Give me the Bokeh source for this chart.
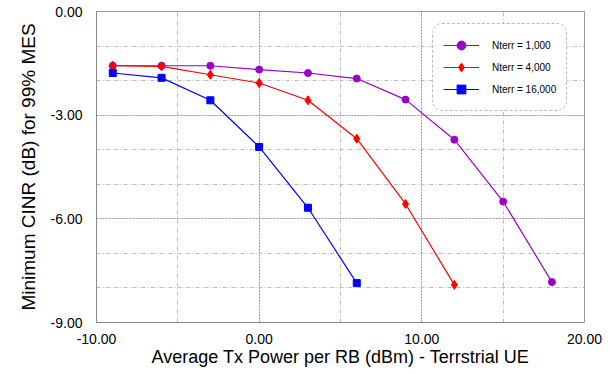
from bokeh.plotting import figure
from bokeh.models import FixedTicker, NumeralTickFormatter, Legend, LegendItem, ColumnDataSource
from bokeh.embed import file_html
from bokeh.resources import INLINE

x_1000 = [-9, -6, -3, 0, 3, 6, 9, 12, 15, 18]
y_1000 = [-1.57, -1.57, -1.57, -1.68, -1.78, -1.94, -2.55, -3.71, -5.50, -7.83]
x_4000 = [-9, -6, -3, 0, 3, 6, 9, 12]
y_4000 = [-1.57, -1.59, -1.83, -2.07, -2.57, -3.68, -5.57, -7.91]
x_16000 = [-9, -6, -3, 0, 3, 6]
y_16000 = [-1.78, -1.92, -2.57, -3.92, -5.68, -7.86]
labels = ["Nterr = 1,000", "Nterr = 4,000", "Nterr = 16,000"]
colors = ["#9900CC", "#FF0000", "#0000FF"]

FONT = "Liberation Sans"

p = figure(width=615, height=374, output_backend="svg", toolbar_location=None,
           x_range=(-10, 20), y_range=(-9, 0),
           min_border_left=96, min_border_right=31, min_border_top=11, min_border_bottom=52)
p.background_fill_color = "white"
p.border_fill_color = "white"
p.outline_line_color = "#999999"
p.outline_line_width = 1

p.xaxis.ticker = FixedTicker(ticks=[-10, 0, 10, 20], minor_ticks=[-5, 5, 15])
p.yaxis.ticker = FixedTicker(ticks=[-9, -6, -3, 0], minor_ticks=[-8, -7, -5, -4, -2, -1])
p.xaxis.formatter = NumeralTickFormatter(format="0.00")
p.yaxis.formatter = NumeralTickFormatter(format="0.00")
for ax in (p.xaxis, p.yaxis):
    ax.major_tick_line_color = None
    ax.minor_tick_line_color = None
    ax.axis_line_color = "#888888"
    ax.major_label_text_font = FONT
    ax.major_label_text_font_size = "14px"
    ax.major_label_text_color = "black"
    ax.axis_label_text_font = FONT
    ax.axis_label_text_font_style = "normal"
    ax.axis_label_text_color = "black"
p.xaxis.axis_label_text_font_size = "18px"
p.yaxis.axis_label_text_font_size = "19px"
p.xaxis.axis_label = "Average Tx Power per RB (dBm) - Terrstrial UE"
p.yaxis.axis_label = "Minimum CINR (dB) for 99% MES"
p.xaxis.major_label_standoff = 5
p.yaxis.major_label_standoff = 8
p.xaxis.axis_label_standoff = 0
p.yaxis.axis_label_standoff = 9

for g in (p.xgrid, p.ygrid):
    g.grid_line_color = "#999999"
    g.grid_line_dash = "2 1"
    g.grid_line_width = 1
    g.minor_grid_line_color = "#bbbbbb"
    g.minor_grid_line_dash = "4 2 1 2"
    g.minor_grid_line_width = 1

series = [(x_1000, y_1000, "circle", 7, 12), (x_4000, y_4000, "diamond", 9, 16),
          (x_16000, y_16000, "square", 7, 11)]
items = []
for (xs, ys, mk, sz, lsz), c, lab in zip(series, colors, labels):
    p.line(xs, ys, line_color=c, line_width=1.2)
    p.scatter(xs, ys, marker=mk, size=sz, fill_color=c, line_color=c)
    # legend-only renderers kept outside the visible range
    off = ColumnDataSource(data=dict(x=[-1000, -999], y=[-1000, -1000]))
    l = p.line("x", "y", source=off, line_color=c, line_width=1.2)
    s = p.scatter("x", "y", source=off, marker=mk, size=lsz,
                  fill_color=c, line_color=c)
    items.append(LegendItem(label=lab, renderers=[l, s]))

legend = Legend(items=items, location=(336, 211), orientation="vertical",
                label_text_font=FONT, label_text_font_size="10px", label_text_color="black",
                glyph_width=36, glyph_height=22, spacing=0, padding=10, margin=0,
                label_standoff=13, border_line_color="#777777", border_line_dash="3 2",
                border_line_width=1, background_fill_color="white", background_fill_alpha=1)
try:
    legend.border_radius = 10
except Exception:
    pass
p.add_layout(legend, "center")

open("out.html", "w").write(file_html(p, INLINE))
